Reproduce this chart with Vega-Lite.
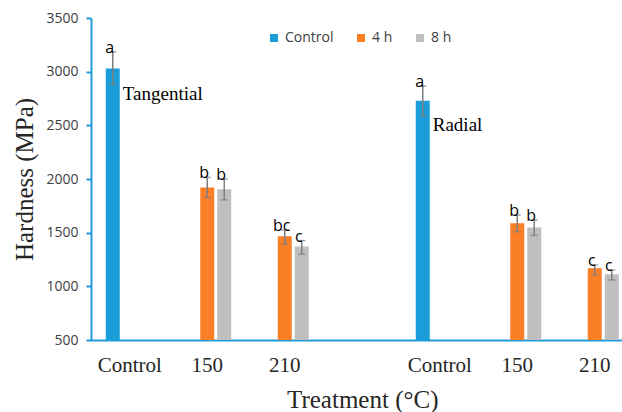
{
  "$schema": "https://vega.github.io/schema/vega-lite/v6.json",
  "width": 531,
  "height": 322,
  "autosize": {"type": "none"},
  "padding": {"left": 91, "top": 18, "right": 0, "bottom": 72},
  "background": "white",
  "config": {"view": {"stroke": null}},
  "data": {
    "values": [
      {"pos": "T-Control", "series": "Control", "hardness": 3030, "lo": 2880, "hi": 3185, "letter": "a", "panel": "Tangential"},
      {"pos": "T-150", "series": "4 h", "hardness": 1920, "lo": 1828, "hi": 2015, "letter": "b"},
      {"pos": "T-150", "series": "8 h", "hardness": 1904, "lo": 1805, "hi": 2001, "letter": "b"},
      {"pos": "T-210", "series": "4 h", "hardness": 1466, "lo": 1393, "hi": 1525, "letter": "bc"},
      {"pos": "T-210", "series": "8 h", "hardness": 1370, "lo": 1299, "hi": 1426, "letter": "c"},
      {"pos": "R-Control", "series": "Control", "hardness": 2730, "lo": 2590, "hi": 2867, "letter": "a", "panel": "Radial"},
      {"pos": "R-150", "series": "4 h", "hardness": 1588, "lo": 1510, "hi": 1665, "letter": "b"},
      {"pos": "R-150", "series": "8 h", "hardness": 1548, "lo": 1475, "hi": 1618, "letter": "b"},
      {"pos": "R-210", "series": "4 h", "hardness": 1168, "lo": 1106, "hi": 1199, "letter": "c"},
      {"pos": "R-210", "series": "8 h", "hardness": 1112, "lo": 1059, "hi": 1152, "letter": "c"}
    ]
  },
  "encoding": {
    "x": {
      "field": "pos",
      "type": "nominal",
      "scale": {
        "domain": ["T-Control", "T-150", "T-210", "gap", "R-Control", "R-150", "R-210"],
        "range": [0, 542.5],
        "paddingInner": 0,
        "paddingOuter": 0
      },
      "axis": {
        "labelExpr": "datum.label == 'gap' ? '' : split(datum.label, '-')[1]",
        "labelAngle": 0,
        "labelFont": "Liberation Serif",
        "labelFontSize": 21,
        "labelColor": "#262626",
        "labelPadding": 14,
        "ticks": false,
        "domainColor": "#1F9BDB",
        "domainWidth": 2,
        "title": "Treatment (°C)",
        "titleFont": "Liberation Serif",
        "titleFontSize": 25,
        "titleFontWeight": "normal",
        "titleColor": "#262626",
        "titlePadding": 12
      }
    },
    "xOffset": {
      "field": "series",
      "type": "nominal",
      "scale": {"domain": ["Control", "4 h", "8 h"], "paddingInner": 0.176, "paddingOuter": 0.868}
    }
  },
  "layer": [
    {
      "mark": {"type": "bar"},
      "encoding": {
        "y": {
          "field": "hardness",
          "type": "quantitative",
          "scale": {"domain": [500, 3500], "nice": false, "zero": false},
          "axis": {
            "values": [500, 1000, 1500, 2000, 2500, 3000, 3500],
            "format": "d",
            "grid": false,
            "labelFont": "Open Sans",
            "labelFontSize": 14,
            "labelColor": "#404040",
            "labelPadding": 8,
            "tickColor": "#1F9BDB",
            "tickSize": 5,
            "tickWidth": 2,
            "domainColor": "#1F9BDB",
            "domainWidth": 2,
            "title": "Hardness (MPa)",
            "titleFont": "Liberation Serif",
            "titleFontSize": 25,
            "titleFontWeight": "normal",
            "titleColor": "#262626",
            "titlePadding": 8
          }
        },
        "y2": {"datum": 500},
        "color": {
          "field": "series",
          "type": "nominal",
          "scale": {"domain": ["Control", "4 h", "8 h"], "range": ["#1B9DD9", "#FB7F27", "#BFBFBF"]},
          "legend": {
            "title": null,
            "orient": "none",
            "legendX": 176,
            "legendY": 13,
            "direction": "horizontal",
            "symbolType": "square",
            "symbolSize": 64,
            "symbolStrokeWidth": 0,
            "labelFont": "Open Sans",
            "labelFontSize": 14,
            "labelColor": "#404040",
            "labelOffset": 4,
            "columnPadding": 20,
            "padding": 0
          }
        }
      }
    },
    {
      "mark": {"type": "rule", "color": "#7F7F7F", "strokeWidth": 1.5},
      "encoding": {
        "y": {"field": "lo", "type": "quantitative"},
        "y2": {"field": "hi"}
      }
    },
    {
      "mark": {"type": "tick", "color": "#7F7F7F", "thickness": 1.5, "size": 7, "orient": "horizontal"},
      "encoding": {
        "y": {"field": "lo", "type": "quantitative"}
      }
    },
    {
      "mark": {"type": "tick", "color": "#7F7F7F", "thickness": 1.5, "size": 7, "orient": "horizontal"},
      "encoding": {
        "y": {"field": "hi", "type": "quantitative"}
      }
    },
    {
      "mark": {"type": "text", "font": "Open Sans", "fontSize": 16, "color": "#000000", "baseline": "alphabetic", "dx": -3, "dy": 1},
      "encoding": {
        "y": {"field": "hi", "type": "quantitative"},
        "text": {"field": "letter"}
      }
    },
    {
      "transform": [{"filter": "datum.panel != null"}],
      "mark": {"type": "text", "font": "Liberation Serif", "fontSize": 19, "color": "#000000", "align": "left", "baseline": "top", "dx": 10, "dy": 0},
      "encoding": {
        "y": {"field": "lo", "type": "quantitative"},
        "text": {"field": "panel"}
      }
    }
  ]
}
